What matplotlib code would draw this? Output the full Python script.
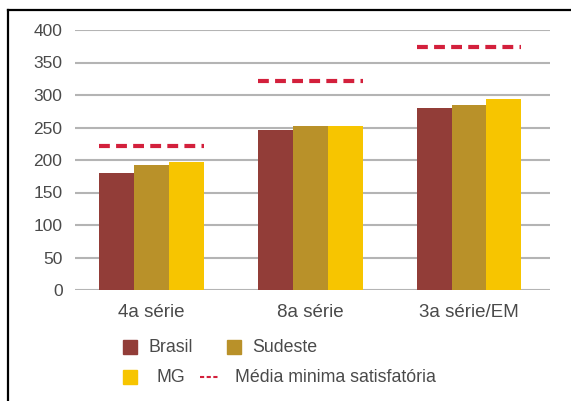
import matplotlib
matplotlib.use("Agg")
import matplotlib.pyplot as plt
import numpy as np
from matplotlib.lines import Line2D
from matplotlib.patches import Rectangle

plt.rcParams["font.family"] = ["Liberation Sans", "DejaVu Sans"]

categories = ["4a série", "8a série", "3a série/EM"]
series_names = ["Brasil", "Sudeste", "MG"]
brasil = [180, 246, 280]
sudeste = [192, 253, 285]
mg = [197, 252, 294]
media_minima = [222, 321, 374]
media_label = "Média minima satisfatória"
yticks = [0, 50, 100, 150, 200, 250, 300, 350, 400]

colors = ["#923d38", "#b99129", "#f7c500"]
dash_color = "#d3203c"

W, H = 571, 401
fig = plt.figure(figsize=(W / 100, H / 100), dpi=100)
ax = fig.add_axes([75 / W, 1 - 290 / H, 475 / W, 260 / H])

x = np.arange(len(categories))
bw = 0.22
for i, (vals, c) in enumerate(zip([brasil, sudeste, mg], colors)):
    ax.bar(x + (i - 1) * bw, vals, width=bw, color=c, zorder=3)
for xi, m in zip(x, media_minima):
    ax.plot([xi - 0.33, xi + 0.33], [m, m], color=dash_color, lw=3,
            dashes=(2.6, 1.5), solid_capstyle="butt", zorder=4)

ax.set_xlim(-0.48, 2.51)
ax.set_ylim(0, 400)
ax.set_yticks(yticks)
ax.set_xticks(x)
ax.set_xticklabels(categories)
ax.yaxis.grid(True, color="#b4b4b4", lw=1.5, zorder=0)
ax.tick_params(axis="both", length=0, colors="#4a4a4a", labelsize=12.5)
ax.tick_params(axis="y", pad=9)
ax.tick_params(axis="x", pad=10, labelsize=13.5)
for s in ax.spines.values():
    s.set_visible(False)

# legend drawn by hand, two rows
def fx(px):
    return px / W

def fy(py):
    return 1 - py / H

legend_items = [
    ("patch", series_names[0], colors[0], 123, 347, 149),
    ("patch", series_names[1], colors[1], 227, 347, 252),
    ("patch", series_names[2], colors[2], 123, 377, 157),
    ("line", media_label, dash_color, 200, 377, 235),
]
for kind, label, c, hx, hy, tx in legend_items:
    if kind == "patch":
        fig.add_artist(Rectangle((fx(hx), fy(hy + 7)), 14 / W, 14 / H,
                                 transform=fig.transFigure, color=c))
    else:
        fig.add_artist(Line2D([fx(hx), fx(hx + 18)], [fy(hy), fy(hy)],
                              transform=fig.transFigure, color=c, lw=1.5,
                              dashes=(2, 1.2)))
    fig.text(fx(tx), fy(hy), label, ha="left", va="center",
             fontsize=12.8, color="#4a4a4a")

# frame lines (top and left)
fig.add_artist(Line2D([fx(7.5), 1], [fy(10), fy(10)], transform=fig.transFigure,
                      color="black", lw=1.6))
fig.add_artist(Line2D([fx(7.5), fx(7.5)], [fy(10), 0], transform=fig.transFigure,
                      color="black", lw=1.6))

fig.savefig("out.png", dpi=100)
